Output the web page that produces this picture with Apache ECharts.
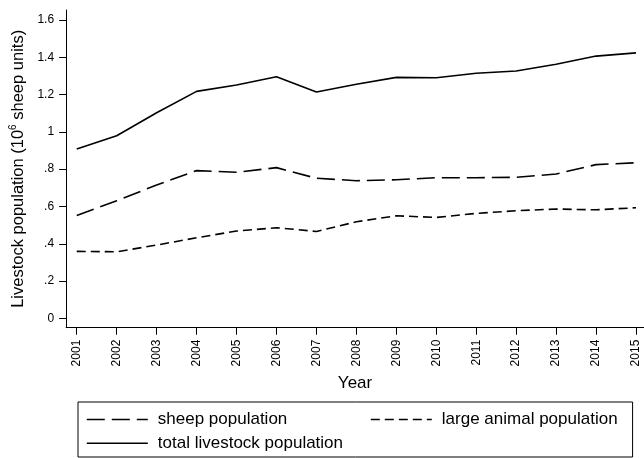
<!DOCTYPE html>
<html>
<head>
<meta charset="utf-8">
<script src="https://cdn.jsdelivr.net/npm/echarts@6/dist/echarts.min.js"></script>
<style>
  html, body { margin: 0; padding: 0; background: #fff; }
  #chart { width: 644px; height: 458px; }
</style>
</head>
<body>
<div id="chart"></div>
<script>
// Livestock population, 10^6 sheep units
const years = [2001, 2002, 2003, 2004, 2005, 2006, 2007, 2008, 2009, 2010, 2011, 2012, 2013, 2014, 2015];
const sheepPopulation = [0.552, 0.630, 0.715, 0.792, 0.783, 0.808, 0.751, 0.738, 0.743, 0.754, 0.754, 0.756, 0.774, 0.824, 0.834];
const largeAnimalPopulation = [0.359, 0.357, 0.393, 0.432, 0.468, 0.486, 0.466, 0.518, 0.550, 0.541, 0.563, 0.577, 0.586, 0.582, 0.593];
const totalLivestockPopulation = [0.908, 0.979, 1.102, 1.217, 1.251, 1.295, 1.213, 1.255, 1.292, 1.290, 1.314, 1.326, 1.362, 1.406, 1.423];
const yTickValues = [0, 0.2, 0.4, 0.6, 0.8, 1, 1.2, 1.4, 1.6];
const yTickLabels = ['0', '.2', '.4', '.6', '.8', '1', '1.2', '1.4', '1.6'];

const FONT = 'Liberation Sans, Arial, Helvetica, sans-serif';
const INK = '#000';

const pairs = vals => years.map((y, i) => [y, vals[i]]);

const chart = echarts.init(document.getElementById('chart'), null, { renderer: 'canvas' });

// Legend keys show the line pattern only, no point marker
const legendCommon = {
  orient: 'horizontal',
  itemWidth: 61,
  itemHeight: 14,
  selectedMode: false,
  itemStyle: { opacity: 0 },
  lineStyle: { width: 1.6 },
  textStyle: { color: INK, fontFamily: FONT, fontSize: 17, padding: [0, 0, 0, 5] }
};

chart.setOption({
  animation: false,
  backgroundColor: '#fff',
  textStyle: { fontFamily: FONT, color: INK },
  grid: { left: 65.3, right: 0, top: 10, bottom: 130.3, containLabel: false },
  xAxis: {
    type: 'value',
    min: 2000.733,
    max: 2015.2,
    name: 'Year',
    nameLocation: 'middle',
    nameGap: 47,
    nameTextStyle: { color: INK, fontFamily: FONT, fontSize: 17 },
    axisLine: { show: true, onZero: false, lineStyle: { color: INK, width: 1 } },
    axisTick: { show: true, length: 7, customValues: years, lineStyle: { color: INK } },
    axisLabel: {
      customValues: years,
      rotate: 90,
      margin: 12,
      color: INK,
      fontFamily: FONT,
      fontSize: 12,
      formatter: v => String(Math.round(v))
    },
    splitLine: { show: false }
  },
  yAxis: {
    type: 'value',
    min: -0.05,
    max: 1.653,
    name: '{t|Livestock population (10}{s|6}{t| sheep units)}',
    nameLocation: 'middle',
    nameGap: 30,
    nameTextStyle: {
      color: INK,
      rich: {
        t: { fontFamily: FONT, fontSize: 16.5, color: INK, lineHeight: 20 },
        s: { fontFamily: FONT, fontSize: 10, color: INK, verticalAlign: 'top', lineHeight: 20 }
      }
    },
    axisLine: { show: true, onZero: false, lineStyle: { color: INK, width: 1 } },
    axisTick: { show: true, length: 7, customValues: yTickValues, lineStyle: { color: INK } },
    axisLabel: {
      customValues: yTickValues,
      margin: 12,
      color: INK,
      fontFamily: FONT,
      fontSize: 12,
      formatter: v => {
        const i = yTickValues.findIndex(t => Math.abs(t - v) < 1e-6);
        return i >= 0 ? yTickLabels[i] : '';
      }
    },
    splitLine: { show: false }
  },
  legend: [
    Object.assign({}, legendCommon, {
      left: 78,
      top: 402,
      padding: [9, 15, 29, 8],
      borderColor: INK,
      borderWidth: 1,
      itemGap: 82.7,
      data: ['sheep population', 'large animal population']
    }),
    Object.assign({}, legendCommon, {
      left: 86,
      top: 434.8,
      padding: 0,
      data: ['total livestock population']
    })
  ],
  series: [
    {
      name: 'sheep population',
      type: 'line',
      symbol: 'none',
      data: pairs(sheepPopulation),
      lineStyle: { color: INK, width: 1.6, type: [18, 7] },
      itemStyle: { color: INK }
    },
    {
      name: 'large animal population',
      type: 'line',
      symbol: 'none',
      data: pairs(largeAnimalPopulation),
      lineStyle: { color: INK, width: 1.6, type: [9, 5] },
      itemStyle: { color: INK }
    },
    {
      name: 'total livestock population',
      type: 'line',
      symbol: 'none',
      data: pairs(totalLivestockPopulation),
      lineStyle: { color: INK, width: 1.6, type: 'solid' },
      itemStyle: { color: INK }
    }
  ]
});
</script>
</body>
</html>
